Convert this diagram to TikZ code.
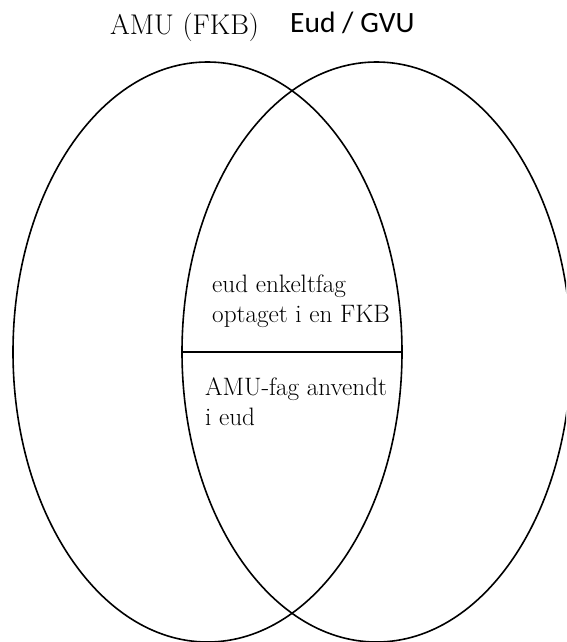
\documentclass[tikz,border=0pt]{standalone}
\usepackage{fontspec}
\newfontfamily\carlito{Carlito}
\usetikzlibrary{shapes.geometric}
\begin{document}
\begin{tikzpicture}[x=1pt,y=1pt,
  venn/.style={ellipse,draw=black,line width=1.6pt,inner sep=0pt,minimum width=389pt,minimum height=580pt},
  lbl/.style={anchor=base west,inner sep=0pt,font=\fontsize{25.2}{30}\selectfont,align=left}]
\useasboundingbox (0,0) rectangle (566,-642);
\clip (0,0) rectangle (566,-642);
\node[venn] (L) at (207.5,-352) {};
\node[venn] (R) at (376.5,-352) {};
\draw[line width=1.6pt] (R.west) -- (L.east);
\node[anchor=base west,inner sep=0pt,font=\fontsize{28.5}{30}\selectfont] (t1) at (110,-35) {AMU (FKB)};
\node[anchor=base west,inner sep=0pt,font=\carlito\fontsize{29.5}{32}\selectfont] (t2) at (290,-33) {Eud / GVU};
\node[lbl] (a) at (212,-322) {eud enkeltfag\\optaget i en FKB};
\node[lbl] (b) at (205,-425) {AMU-fag anvendt\\i eud};
\end{tikzpicture}
\end{document}
